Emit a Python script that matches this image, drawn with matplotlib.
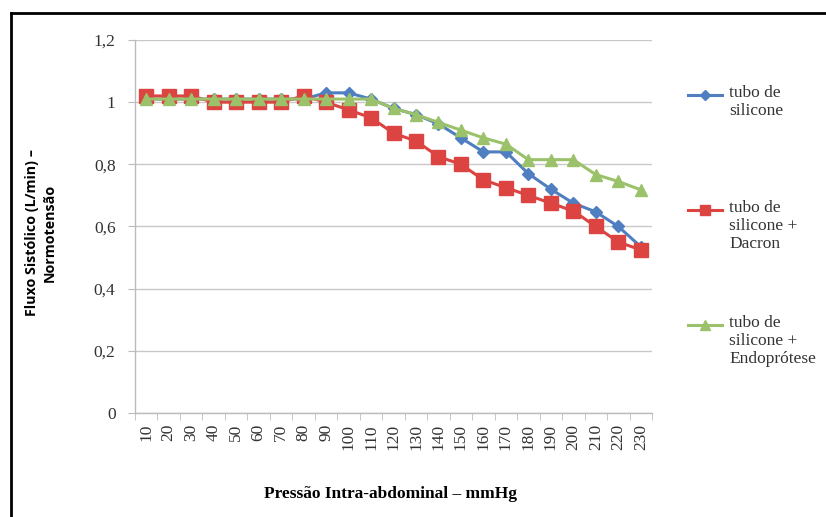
import numpy as np
import matplotlib.pyplot as plt
from matplotlib.lines import Line2D

# Dados
pressao = [10, 20, 30, 40, 50, 60, 70, 80, 90, 100, 110, 120,
           130, 140, 150, 160, 170, 180, 190, 200, 210, 220, 230]

silicone = [1.01, 1.01, 1.01, 1.01, 1.01, 1.01, 1.01, 1.01, 1.03, 1.03, 1.01, 0.98,
            0.96, 0.93, 0.885, 0.84, 0.84, 0.77, 0.72, 0.675, 0.647, 0.60, 0.535]
dacron = [1.02, 1.02, 1.02, 1.0, 1.0, 1.0, 1.0, 1.02, 1.0, 0.975, 0.95, 0.90,
          0.875, 0.825, 0.80, 0.75, 0.725, 0.70, 0.675, 0.65, 0.60, 0.55, 0.525]
endoprotese = [1.01, 1.01, 1.01, 1.01, 1.01, 1.01, 1.01, 1.01, 1.01, 1.01, 1.01, 0.98,
               0.96, 0.935, 0.91, 0.885, 0.865, 0.815, 0.815, 0.815, 0.767, 0.745, 0.718]

labels = ['tubo de\nsilicone', 'tubo de\nsilicone +\nDacron', 'tubo de\nsilicone +\nEndoprótese']
cores = ['#4F7FC0', '#DB4440', '#9BC26A']
marcadores = ['D', 's', '^']
tamanhos = [6, 9.5, 8.5]

yticks = [0, 0.2, 0.4, 0.6, 0.8, 1.0, 1.2]
ytick_labels = ['0', '0,2', '0,4', '0,6', '0,8', '1', '1,2']

serif = 'Liberation Serif'

fig = plt.figure(figsize=(8.26, 5.17), dpi=100)
ax = fig.add_axes([135 / 826, 1 - 413 / 517, (652 - 135) / 826, (413 - 40) / 517])

x = np.arange(len(pressao))
for serie, cor, m, ms in zip([silicone, dacron, endoprotese], cores, marcadores, tamanhos):
    ax.plot(x, serie, color=cor, marker=m, markersize=ms, linewidth=2.2, clip_on=False)

ax.set_xlim(-0.5, len(pressao) - 0.5)
ax.set_ylim(0, 1.2)
ax.set_yticks(yticks)
ax.set_yticklabels(ytick_labels, fontfamily=serif, fontsize=12.5, color='#333333')
ax.set_xticks(x)
ax.set_xticklabels([str(p) for p in pressao], rotation=90, fontfamily=serif,
                   fontsize=12.5, color='#333333')
ax.set_xticks(np.arange(-0.5, len(pressao)), minor=True)
ax.tick_params(axis='x', which='major', length=0, pad=8)
ax.tick_params(axis='x', which='minor', length=5, color='#BBBBBB', direction='out')
ax.tick_params(axis='y', length=5, color='#BBBBBB', pad=9)

ax.grid(axis='y', color='#C8C8C8', linewidth=1)
ax.set_axisbelow(True)
for s in ['top', 'right']:
    ax.spines[s].set_visible(False)
for s in ['left', 'bottom']:
    ax.spines[s].set_color('#BBBBBB')
    ax.spines[s].set_linewidth(1)

fig.text(41 / 826, 1 - 233 / 517, 'Fluxo Sistólico (L/min) –\nNormotensão', rotation=90,
         ha='center', va='center', fontsize=10.3, fontweight='bold', fontfamily='Open Sans',
         linespacing=1.3)
fig.text(390 / 826, 1 - 494 / 517, 'Pressão Intra-abdominal – mmHg', ha='center', va='center',
         fontsize=12.5, fontweight='bold', fontfamily=serif)

# Legenda
for i, (lab, cor, m, ms) in enumerate(zip(labels, cores, marcadores, tamanhos)):
    yl = 1 - (95 + 115 * i) / 517
    fig.add_artist(Line2D([688 / 826, 722 / 826], [yl, yl], color=cor, linewidth=2.2))
    fig.add_artist(Line2D([705 / 826], [yl], color=cor, marker=m, markersize=ms * 0.8))
    fig.text(729 / 826, yl + 10 / 517, lab, ha='left', va='top', fontsize=12.5,
             fontfamily=serif, linespacing=1.15, color='#333333')

# Moldura
fig.add_artist(Line2D([11 / 826, 1], [1 - 13 / 517, 1 - 13 / 517], color='black', linewidth=2))
fig.add_artist(Line2D([11 / 826, 11 / 826], [0, 1 - 13 / 517], color='black', linewidth=2))

fig.savefig('out.png', dpi=100)
